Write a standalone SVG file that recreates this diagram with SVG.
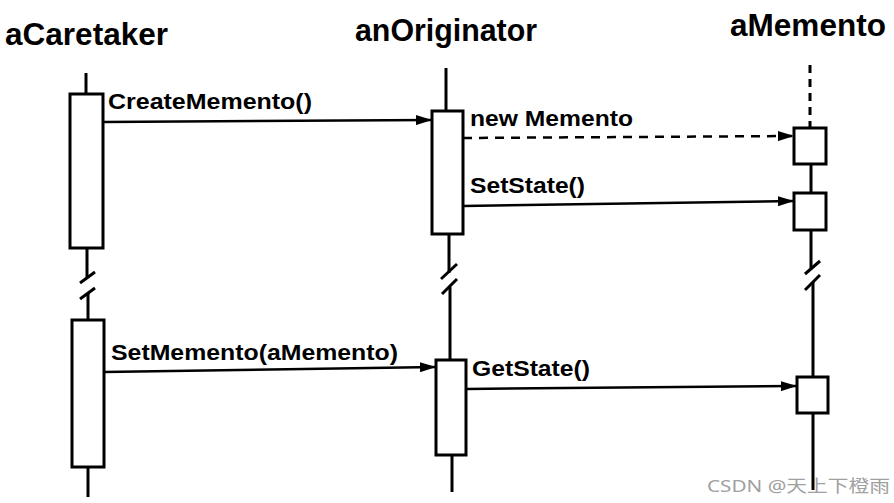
<svg xmlns="http://www.w3.org/2000/svg" width="894" height="503" viewBox="0 0 894 503">
<defs>
<style>
.title{font-family:"Liberation Sans",Arial,sans-serif;font-weight:bold;font-size:32px;fill:#000}
.lbl{font-family:"Liberation Sans",Arial,sans-serif;font-weight:bold;font-size:22px;fill:#000}
.life{stroke:#000;stroke-width:3;fill:none}
.act{stroke:#000;stroke-width:3;fill:#fff}
.msg{stroke:#000;stroke-width:2.5;fill:none}
.dash{stroke-dasharray:9,7}
.wm{font-family:"Noto Sans","Noto Sans CJK SC",sans-serif;font-size:17px;fill:#a0a0a0}
</style>
<marker id="ah" viewBox="0 0 16 10" refX="16" refY="5" markerWidth="16" markerHeight="10" markerUnits="userSpaceOnUse" orient="auto">
<path d="M0,0 L16,5 L0,10 Z" fill="#000"/>
</marker>
</defs>
<rect width="894" height="503" fill="#fff"/>

<g id="aCaretaker">
<text class="title" x="5" y="45" textLength="163" lengthAdjust="spacingAndGlyphs">aCaretaker</text>
<line class="life" x1="86" y1="73" x2="86" y2="94"/>
<rect class="act" x="70" y="94" width="33" height="154"/>
<line class="life" x1="87" y1="248" x2="87" y2="278"/>
<line class="life" x1="80" y1="283" x2="95" y2="272"/>
<line class="life" x1="80" y1="299" x2="95" y2="288"/>
<line class="life" x1="88" y1="293" x2="88" y2="320"/>
<rect class="act" x="72" y="320" width="32" height="147"/>
<line class="life" x1="88" y1="467" x2="88" y2="497"/>
</g>

<g id="anOriginator">
<text class="title" x="355" y="41" textLength="182" lengthAdjust="spacingAndGlyphs">anOriginator</text>
<line class="life" x1="446" y1="68" x2="446" y2="111"/>
<rect class="act" x="432" y="111" width="31" height="123"/>
<line class="life" x1="449" y1="234" x2="449" y2="273"/>
<line class="life" x1="441" y1="279" x2="457" y2="264"/>
<line class="life" x1="442" y1="294" x2="457" y2="279"/>
<line class="life" x1="450" y1="287" x2="450" y2="360"/>
<rect class="act" x="436" y="360" width="30" height="95"/>
<line class="life" x1="452" y1="455" x2="452" y2="492"/>
</g>

<g id="aMemento">
<text class="title" x="730" y="36" textLength="156" lengthAdjust="spacingAndGlyphs">aMemento</text>
<line class="life" x1="810" y1="65" x2="810" y2="128" stroke-dasharray="8,6"/>
<rect class="act" x="794" y="128" width="32" height="36"/>
<line class="life" x1="811" y1="164" x2="811" y2="193"/>
<rect class="act" x="794" y="193" width="32" height="37"/>
<line class="life" x1="811" y1="230" x2="811" y2="268"/>
<line class="life" x1="805" y1="274" x2="820" y2="261"/>
<line class="life" x1="805" y1="290" x2="820" y2="275"/>
<line class="life" x1="813" y1="282" x2="813" y2="377"/>
<rect class="act" x="797" y="377" width="31" height="36"/>
<line class="life" x1="813" y1="413" x2="813" y2="490"/>
</g>

<g id="connectors">
<line class="msg" x1="103" y1="122" x2="432" y2="120" marker-end="url(#ah)"/>
<text class="lbl" x="108" y="109" textLength="204" lengthAdjust="spacingAndGlyphs">CreateMemento()</text>
<line class="msg dash" x1="463" y1="138" x2="794" y2="136" marker-end="url(#ah)"/>
<text class="lbl" x="470" y="126" textLength="163" lengthAdjust="spacingAndGlyphs">new Memento</text>
<line class="msg" x1="463" y1="206" x2="794" y2="201" marker-end="url(#ah)"/>
<text class="lbl" x="470" y="193" textLength="115" lengthAdjust="spacingAndGlyphs">SetState()</text>
<line class="msg" x1="104" y1="372" x2="436" y2="367" marker-end="url(#ah)"/>
<text class="lbl" x="111" y="360" textLength="287" lengthAdjust="spacingAndGlyphs">SetMemento(aMemento)</text>
<line class="msg" x1="466" y1="389" x2="797" y2="386" marker-end="url(#ah)"/>
<text class="lbl" x="472" y="376" textLength="118" lengthAdjust="spacingAndGlyphs">GetState()</text>
</g>

<text class="wm" x="707" y="492" textLength="183" lengthAdjust="spacingAndGlyphs">CSDN @天上下橙雨</text>
</svg>
